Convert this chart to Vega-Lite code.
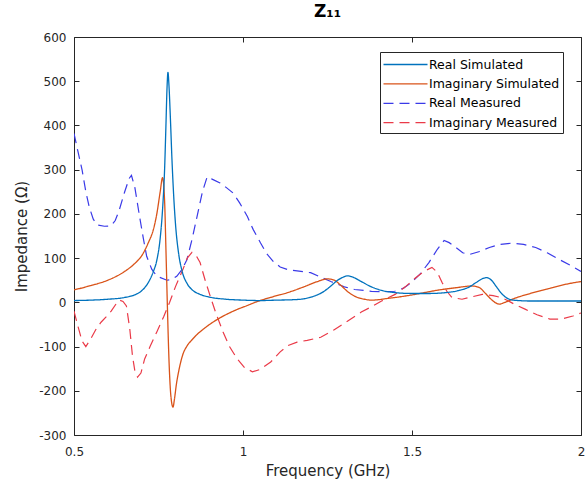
{
  "$schema": "https://vega.github.io/schema/vega-lite/v6.json",
  "width": 507,
  "height": 398,
  "autosize": {"type": "none"},
  "padding": {"left": 74, "top": 37, "right": 5, "bottom": 58},
  "background": "white",
  "title": {"text": "Z₁₁", "fontSize": 17, "fontWeight": "bold", "font": "DejaVu Sans", "color": "#000000", "offset": 10, "anchor": "middle"},
  "config": {
    "view": {"stroke": "#262626", "strokeWidth": 1},
    "font": "DejaVu Sans"
  },
  "datasets": {
    "rs": [
      {"f":0.5,"v":4},{"f":0.55,"v":5},{"f":0.6,"v":7},{"f":0.65,"v":11},{"f":0.68,"v":17},{"f":0.7,"v":26},{"f":0.72,"v":45},{"f":0.735,"v":70},{"f":0.745,"v":95},{"f":0.755,"v":145},{"f":0.762,"v":210},{"f":0.768,"v":300},{"f":0.772,"v":400},{"f":0.775,"v":480},{"f":0.778,"v":520},{"f":0.781,"v":490},{"f":0.785,"v":420},{"f":0.79,"v":320},{"f":0.795,"v":240},{"f":0.8,"v":180},{"f":0.81,"v":108},{"f":0.82,"v":70},{"f":0.835,"v":42},{"f":0.85,"v":28},{"f":0.87,"v":19},{"f":0.9,"v":12},{"f":0.95,"v":7},{"f":1.0,"v":5},{"f":1.05,"v":4},{"f":1.1,"v":5},{"f":1.15,"v":6},{"f":1.18,"v":8},{"f":1.21,"v":14},{"f":1.24,"v":25},{"f":1.26,"v":37},{"f":1.28,"v":50},{"f":1.3,"v":58},{"f":1.31,"v":60},{"f":1.325,"v":57},{"f":1.35,"v":47},{"f":1.38,"v":35},{"f":1.41,"v":27},{"f":1.45,"v":22},{"f":1.5,"v":20},{"f":1.55,"v":20},{"f":1.6,"v":22},{"f":1.64,"v":27},{"f":1.67,"v":35},{"f":1.69,"v":45},{"f":1.71,"v":54},{"f":1.72,"v":56},{"f":1.735,"v":50},{"f":1.75,"v":35},{"f":1.765,"v":20},{"f":1.78,"v":10},{"f":1.8,"v":5},{"f":1.85,"v":3},{"f":1.9,"v":3},{"f":2.0,"v":3}
    ],
    "is": [
      {"f":0.5,"v":28},{"f":0.55,"v":38},{"f":0.6,"v":50},{"f":0.65,"v":70},{"f":0.68,"v":88},{"f":0.7,"v":105},{"f":0.72,"v":135},{"f":0.735,"v":165},{"f":0.745,"v":200},{"f":0.755,"v":250},{"f":0.762,"v":282},{"f":0.768,"v":230},{"f":0.772,"v":120},{"f":0.776,"v":0},{"f":0.781,"v":-130},{"f":0.787,"v":-215},{"f":0.793,"v":-237},{"f":0.797,"v":-220},{"f":0.803,"v":-185},{"f":0.81,"v":-155},{"f":0.822,"v":-118},{"f":0.835,"v":-98},{"f":0.85,"v":-84},{"f":0.865,"v":-72},{"f":0.882,"v":-61},{"f":0.905,"v":-48},{"f":0.932,"v":-35},{"f":0.96,"v":-24},{"f":0.983,"v":-16},{"f":1.01,"v":-8},{"f":1.043,"v":2},{"f":1.09,"v":13},{"f":1.132,"v":22},{"f":1.18,"v":35},{"f":1.22,"v":47},{"f":1.25,"v":53},{"f":1.27,"v":50},{"f":1.29,"v":38},{"f":1.31,"v":24},{"f":1.33,"v":14},{"f":1.36,"v":7},{"f":1.38,"v":5},{"f":1.43,"v":9},{"f":1.478,"v":14},{"f":1.53,"v":21},{"f":1.58,"v":28},{"f":1.63,"v":33},{"f":1.678,"v":37},{"f":1.7,"v":33},{"f":1.715,"v":22},{"f":1.73,"v":10},{"f":1.745,"v":0},{"f":1.758,"v":-4},{"f":1.775,"v":0},{"f":1.8,"v":8},{"f":1.85,"v":20},{"f":1.9,"v":30},{"f":1.95,"v":40},{"f":2.0,"v":47}
    ],
    "rm": [
      {"f":0.5,"v":382},{"f":0.512,"v":340},{"f":0.524,"v":299},{"f":0.535,"v":250},{"f":0.545,"v":216},{"f":0.557,"v":188},{"f":0.569,"v":175},{"f":0.59,"v":172},{"f":0.61,"v":173},{"f":0.622,"v":185},{"f":0.634,"v":209},{"f":0.65,"v":250},{"f":0.663,"v":280},{"f":0.67,"v":287},{"f":0.68,"v":260},{"f":0.694,"v":194},{"f":0.705,"v":145},{"f":0.715,"v":104},{"f":0.73,"v":75},{"f":0.745,"v":59},{"f":0.775,"v":50},{"f":0.79,"v":52},{"f":0.804,"v":59},{"f":0.82,"v":75},{"f":0.834,"v":96},{"f":0.85,"v":145},{"f":0.864,"v":194},{"f":0.88,"v":250},{"f":0.894,"v":284},{"f":0.91,"v":278},{"f":0.932,"v":270},{"f":0.95,"v":260},{"f":0.971,"v":247},{"f":0.99,"v":225},{"f":1.013,"v":194},{"f":1.03,"v":165},{"f":1.052,"v":134},{"f":1.07,"v":110},{"f":1.09,"v":92},{"f":1.11,"v":80},{"f":1.132,"v":74},{"f":1.16,"v":71},{"f":1.2,"v":67},{"f":1.23,"v":57},{"f":1.26,"v":47},{"f":1.3,"v":35},{"f":1.33,"v":29},{"f":1.38,"v":25},{"f":1.42,"v":24},{"f":1.449,"v":25},{"f":1.475,"v":32},{"f":1.499,"v":45},{"f":1.525,"v":65},{"f":1.55,"v":90},{"f":1.575,"v":120},{"f":1.595,"v":140},{"f":1.61,"v":135},{"f":1.627,"v":126},{"f":1.65,"v":112},{"f":1.669,"v":108},{"f":1.7,"v":115},{"f":1.729,"v":124},{"f":1.76,"v":131},{"f":1.797,"v":134},{"f":1.83,"v":131},{"f":1.866,"v":124},{"f":1.9,"v":112},{"f":1.938,"v":96},{"f":1.97,"v":83},{"f":2.0,"v":70}
    ],
    "im": [
      {"f":0.5,"v":-20},{"f":0.512,"v":-55},{"f":0.524,"v":-88},{"f":0.535,"v":-100},{"f":0.55,"v":-82},{"f":0.565,"v":-61},{"f":0.58,"v":-45},{"f":0.595,"v":-33},{"f":0.61,"v":-20},{"f":0.625,"v":-3},{"f":0.634,"v":5},{"f":0.645,"v":2},{"f":0.655,"v":-8},{"f":0.665,"v":-60},{"f":0.673,"v":-121},{"f":0.68,"v":-155},{"f":0.688,"v":-169},{"f":0.698,"v":-160},{"f":0.709,"v":-128},{"f":0.725,"v":-100},{"f":0.745,"v":-67},{"f":0.765,"v":-33},{"f":0.783,"v":0},{"f":0.8,"v":35},{"f":0.822,"v":74},{"f":0.835,"v":100},{"f":0.849,"v":113},{"f":0.862,"v":105},{"f":0.873,"v":90},{"f":0.888,"v":50},{"f":0.903,"v":14},{"f":0.92,"v":-25},{"f":0.941,"v":-67},{"f":0.96,"v":-100},{"f":0.983,"v":-128},{"f":1.005,"v":-148},{"f":1.028,"v":-157},{"f":1.05,"v":-152},{"f":1.082,"v":-135},{"f":1.11,"v":-112},{"f":1.132,"v":-98},{"f":1.16,"v":-90},{"f":1.19,"v":-86},{"f":1.23,"v":-79},{"f":1.27,"v":-62},{"f":1.31,"v":-42},{"f":1.35,"v":-22},{"f":1.38,"v":-10},{"f":1.41,"v":3},{"f":1.45,"v":18},{"f":1.48,"v":35},{"f":1.51,"v":55},{"f":1.535,"v":70},{"f":1.559,"v":79},{"f":1.575,"v":68},{"f":1.589,"v":45},{"f":1.603,"v":25},{"f":1.618,"v":11},{"f":1.648,"v":7},{"f":1.68,"v":13},{"f":1.708,"v":18},{"f":1.74,"v":15},{"f":1.768,"v":10},{"f":1.8,"v":-3},{"f":1.836,"v":-16},{"f":1.87,"v":-28},{"f":1.908,"v":-38},{"f":1.94,"v":-38},{"f":1.976,"v":-31},{"f":2.0,"v":-24}
    ]
  },
  "layer": [
    {
      "data": {"name": "rm"},
      "transform": [{"calculate": "'Real Measured'", "as": "s"}],
      "mark": {"type": "line", "strokeWidth": 1.2, "clip": true},
      "encoding": {
        "x": {"field": "f", "type": "quantitative", "axis": null},
        "y": {"field": "v", "type": "quantitative", "axis": null},
        "color": {"field": "s", "type": "nominal"},
        "strokeDash": {"field": "s", "type": "nominal"}
      }
    },
    {
      "data": {"name": "im"},
      "transform": [{"calculate": "'Imaginary Measured'", "as": "s"}],
      "mark": {"type": "line", "strokeWidth": 1.2, "clip": true},
      "encoding": {
        "x": {"field": "f", "type": "quantitative", "axis": null},
        "y": {"field": "v", "type": "quantitative", "axis": null},
        "color": {"field": "s", "type": "nominal"},
        "strokeDash": {"field": "s", "type": "nominal"}
      }
    },
    {
      "data": {"name": "is"},
      "transform": [{"calculate": "'Imaginary Simulated'", "as": "s"}],
      "mark": {"type": "line", "strokeWidth": 1.3, "clip": true, "interpolate": "monotone"},
      "encoding": {
        "x": {"field": "f", "type": "quantitative", "axis": null},
        "y": {"field": "v", "type": "quantitative", "axis": null},
        "color": {"field": "s", "type": "nominal"},
        "strokeDash": {"field": "s", "type": "nominal"}
      }
    },
    {
      "data": {"name": "rs"},
      "transform": [{"calculate": "'Real Simulated'", "as": "s"}],
      "mark": {"type": "line", "strokeWidth": 1.3, "clip": true, "interpolate": "monotone"},
      "encoding": {
        "x": {
          "field": "f", "type": "quantitative",
          "scale": {"domain": [0.5, 2], "nice": false, "zero": false},
          "axis": {"title": "Frequency (GHz)", "values": [0.5, 1, 1.5, 2], "format": "~g", "grid": false, "domain": false, "tickSize": -5, "tickColor": "#262626", "labelColor": "#262626", "labelFontSize": 12, "labelPadding": 16, "labelFlush": false, "titleFontSize": 15, "titleFontWeight": "normal", "titleColor": "#262626", "titlePadding": 6}
        },
        "y": {
          "field": "v", "type": "quantitative",
          "scale": {"domain": [-300, 600], "nice": false, "zero": false},
          "axis": {"title": "Impedance (Ω)", "values": [-300, -200, -100, 0, 100, 200, 300, 400, 500, 600], "labelExpr": "'' + datum.value", "grid": false, "domain": false, "tickSize": -5, "tickColor": "#262626", "labelColor": "#262626", "labelFontSize": 12, "labelPadding": 13, "titleFontSize": 15, "titleFontWeight": "normal", "titleColor": "#262626", "titlePadding": 9}
        },
        "color": {
          "field": "s", "type": "nominal",
          "scale": {"domain": ["Real Simulated", "Imaginary Simulated", "Real Measured", "Imaginary Measured"], "range": ["#0072BD", "#D95319", "#3a3ae8", "#ea3a48"]},
          "legend": {"title": null, "orient": "none", "legendX": 306, "legendY": 15, "strokeColor": "#262626", "fillColor": "white", "padding": 3, "labelFontSize": 12.5, "labelColor": "#000000", "symbolType": "M-2.5,0H2.5", "symbolSize": 310, "symbolStrokeWidth": 1.3, "symbolOffset": 13, "labelOffset": 14, "rowPadding": 3.4, "cornerRadius": 0}
        },
        "strokeDash": {
          "field": "s", "type": "nominal",
          "scale": {"domain": ["Real Simulated", "Imaginary Simulated", "Real Measured", "Imaginary Measured"], "range": [[1, 0], [1, 0], [10, 6], [10, 6]]},
          "legend": {"title": null, "orient": "none", "legendX": 306, "legendY": 15, "strokeColor": "#262626", "fillColor": "white", "padding": 3, "labelFontSize": 12.5, "labelColor": "#000000", "symbolType": "M-2.5,0H2.5", "symbolSize": 310, "symbolStrokeWidth": 1.3, "symbolOffset": 13, "labelOffset": 14, "rowPadding": 3.4, "cornerRadius": 0}
        }
      }
    },
    {
      "data": {"name": "rs"},
      "mark": {"type": "point", "opacity": 0},
      "encoding": {
        "x": {"field": "f", "type": "quantitative", "axis": {"orient": "top", "title": null, "labels": false, "values": [0.5, 1, 1.5, 2], "grid": false, "domain": false, "tickSize": -5, "tickColor": "#262626"}},
        "y": {"field": "v", "type": "quantitative", "axis": {"orient": "right", "title": null, "labels": false, "values": [-300, -200, -100, 0, 100, 200, 300, 400, 500, 600], "grid": false, "domain": false, "tickSize": -5, "tickColor": "#262626"}}
      }
    }
  ],
  "resolve": {"axis": {"x": "independent", "y": "independent"}}
}
